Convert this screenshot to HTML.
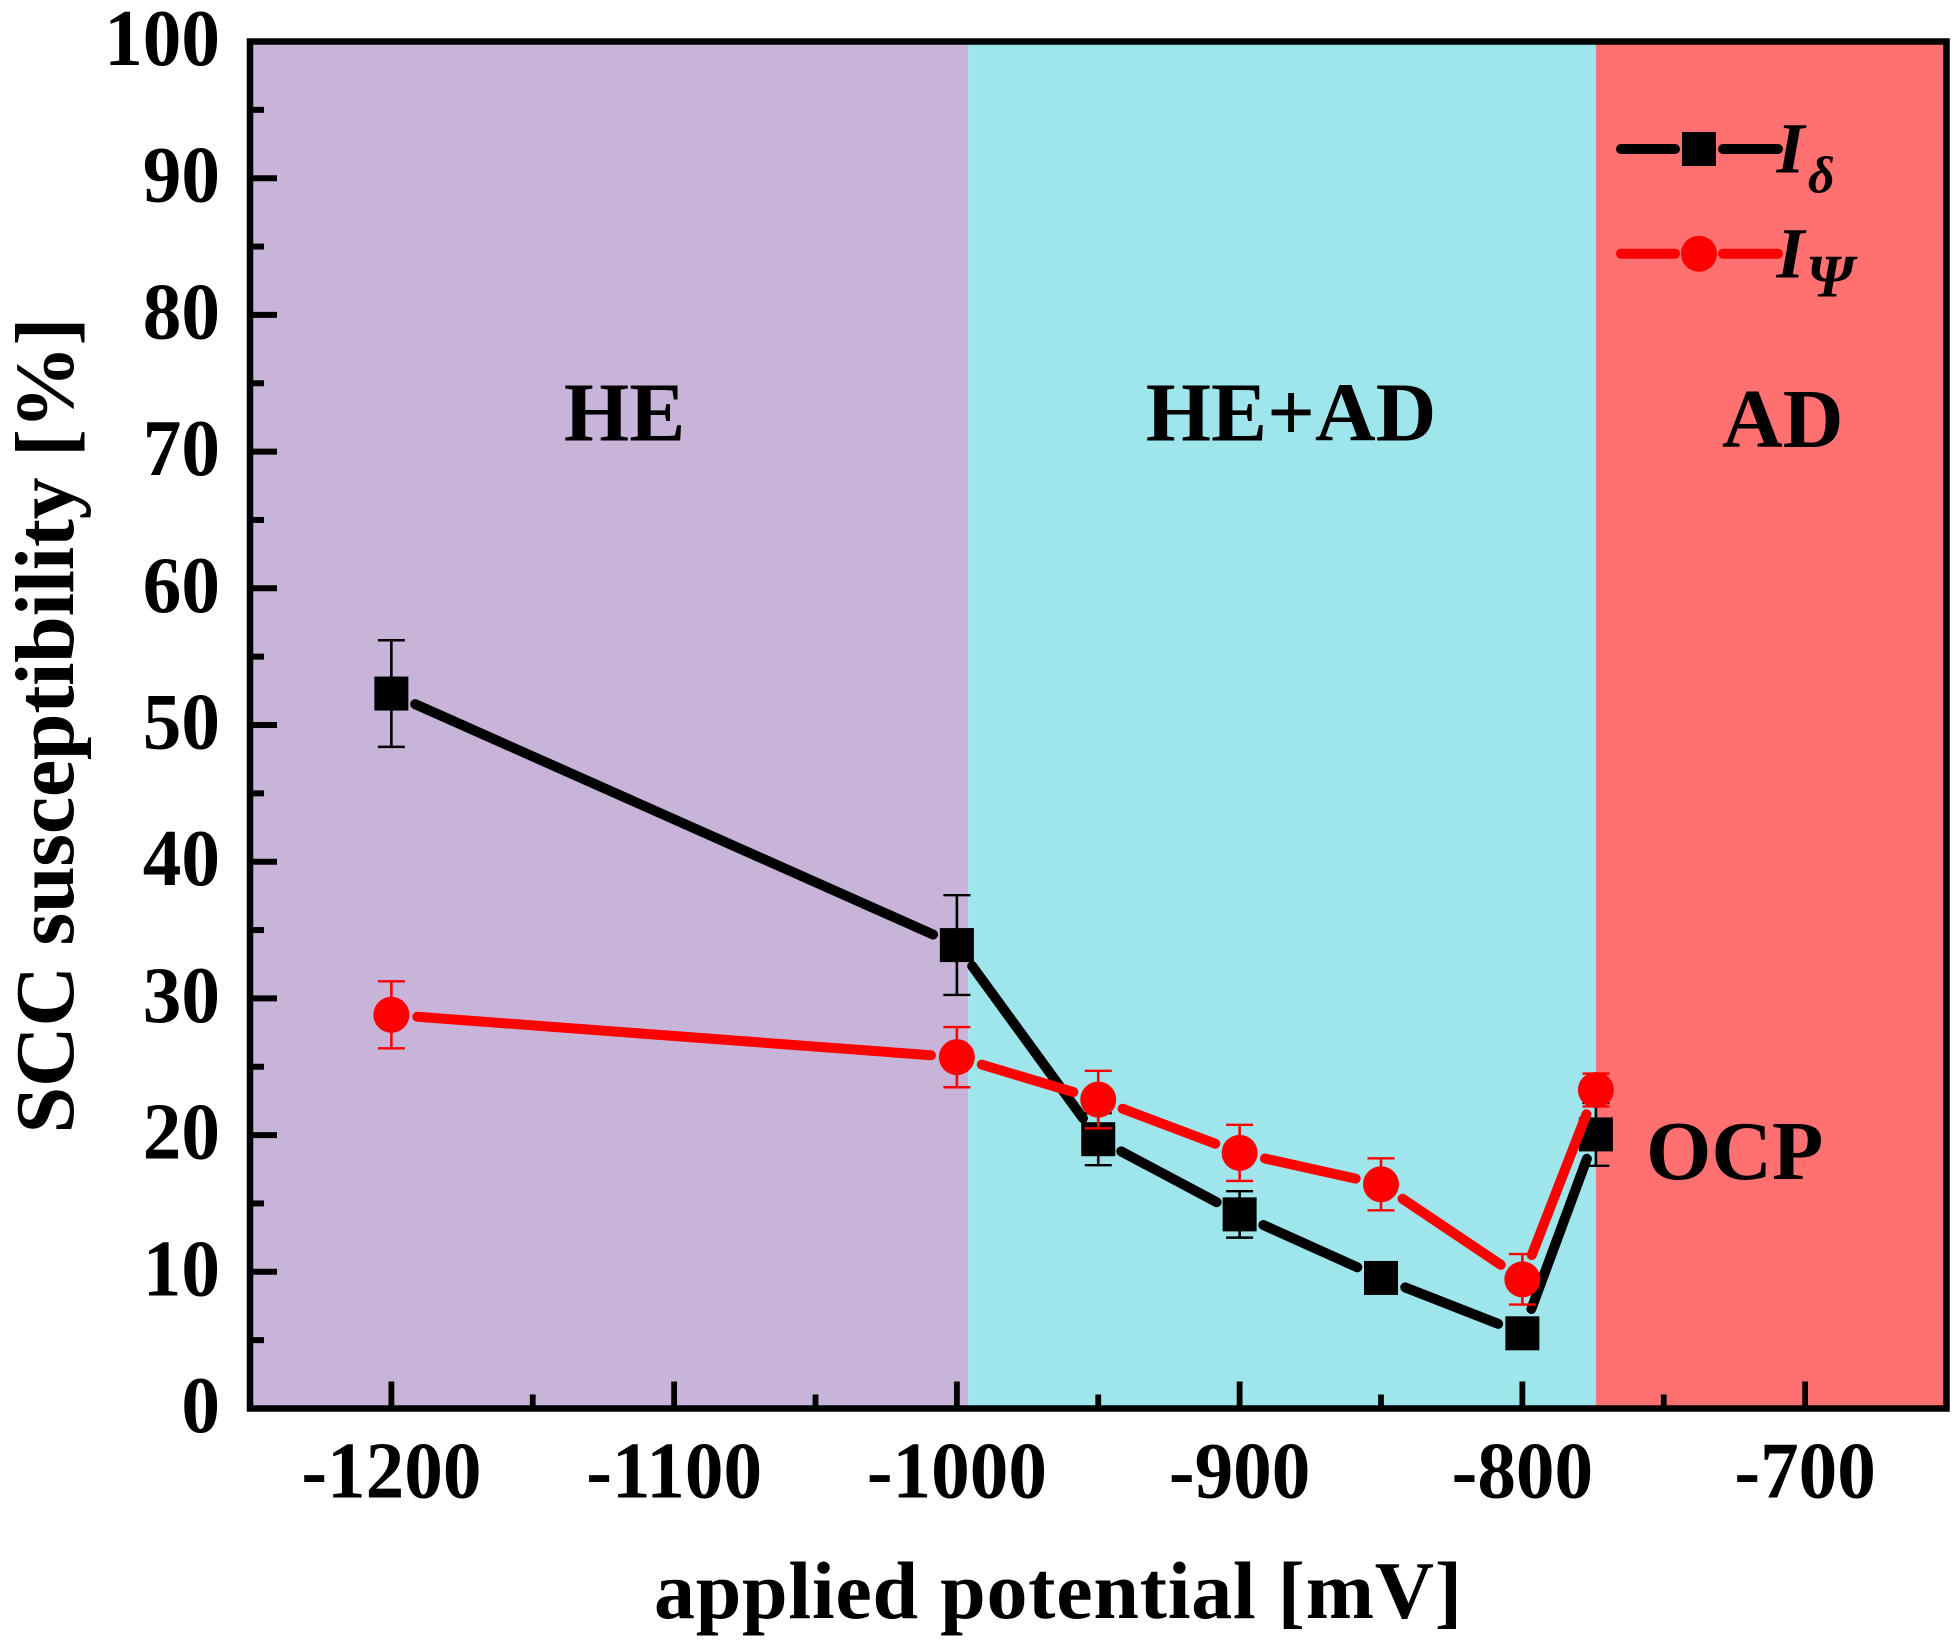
<!DOCTYPE html>
<html lang="en">
<head>
<meta charset="utf-8">
<title>SCC susceptibility vs applied potential</title>
<style>
html,body{margin:0;padding:0;background:#fff;width:1957px;height:1644px;overflow:hidden}
svg{display:block}
text{font-family:"Liberation Serif","Times New Roman",serif;font-weight:bold;fill:#000}
</style>
</head>
<body>
<svg id="chart" xmlns="http://www.w3.org/2000/svg" width="1957" height="1644" viewBox="0 0 1957 1644">
  <g id="bands"></g>
  <g id="series-delta"></g>
  <g id="series-psi"></g>
  <g id="axes"></g>
  <rect x="250" y="41.5" width="1696.5" height="1367" fill="none" stroke="#000" stroke-width="6.5"/>
  <g font-size="84">
    <text x="624.6" y="440.5" text-anchor="middle">HE</text>
    <text x="1291" y="440.5" text-anchor="middle">HE+AD</text>
    <text x="1782.7" y="447" text-anchor="middle">AD</text>
    <text x="1734.7" y="1179" text-anchor="middle">OCP</text>
  </g>
  <g>
    <g>
      <line x1="1621" y1="149" x2="1675" y2="149" stroke="#000" stroke-width="10" stroke-linecap="round"/>
      <line x1="1723" y1="149" x2="1778" y2="149" stroke="#000" stroke-width="10" stroke-linecap="round"/>
      <rect x="1682" y="132" width="34" height="34" fill="#000"/>
      <text x="1776.5" y="172.5" font-size="72" font-style="italic">I</text>
      <text x="1808" y="192.5" font-size="52" font-style="italic">δ</text>
    </g>
    <g>
      <line x1="1621" y1="253.7" x2="1675" y2="253.7" stroke="#f00" stroke-width="10" stroke-linecap="round"/>
      <line x1="1723" y1="253.7" x2="1778" y2="253.7" stroke="#f00" stroke-width="10" stroke-linecap="round"/>
      <circle cx="1699" cy="253.7" r="18" fill="#f00"/>
      <text x="1776.5" y="277.5" font-size="72" font-style="italic">I</text>
      <text x="1806" y="296.5" font-size="60" font-style="italic">Ψ</text>
    </g>
  </g>
  <text x="1058" y="1618" font-size="82" text-anchor="middle" textLength="808" lengthAdjust="spacing">applied potential [mV]</text>
  <text transform="translate(73 725.5) rotate(-90)" font-size="84" text-anchor="middle" textLength="816" lengthAdjust="spacing">SCC susceptibility [%]</text>
</svg>
<script>
const potentials = [-1200, -1000, -950, -900, -850, -800, -774];
const deltaValues = [52.3, 33.9, 19.7, 14.2, 9.55, 5.5, 20.05];
const deltaErrors = [3.9, 3.65, 1.9, 1.7, 1.0, 0.5, 2.3];
const psiValues = [28.8, 25.7, 22.6, 18.7, 16.4, 9.45, 23.3];
const psiErrors = [2.45, 2.2, 2.1, 2.05, 1.9, 1.85, 1.2];
const xMajorTicks = [-1200, -1100, -1000, -900, -800, -700];
const xMinorTicks = [-1150, -1050, -950, -850, -750];
const yMajorTicks = [0, 10, 20, 30, 40, 50, 60, 70, 80, 90, 100];
const yMinorTicks = [5, 15, 25, 35, 45, 55, 65, 75, 85, 95];
const xDomain = [-1250, -650];
const yDomain = [0, 100];
const bandEdges = [-1250, -996, -774, -650];
const bandColors = ['#c8b4d8', '#9fe6ec', '#ff7070'];

const NS = 'http://www.w3.org/2000/svg';
const plotLeft = 250, plotRight = 1946.5, plotTop = 41.5, plotBottom = 1408.5;
function xScale(v) { return plotLeft + (v - xDomain[0]) / (xDomain[1] - xDomain[0]) * (plotRight - plotLeft); }
function yScale(v) { return plotBottom - (v - yDomain[0]) / (yDomain[1] - yDomain[0]) * (plotBottom - plotTop); }
function make(tag, parent, attrs) {
  const el = document.createElementNS(NS, tag);
  for (const k in attrs) el.setAttribute(k, attrs[k]);
  parent.appendChild(el);
  return el;
}

const bandsGroup = document.getElementById('bands');
bandColors.forEach(function (color, i) {
  const band = make('rect', bandsGroup, { x: xScale(bandEdges[i]), y: plotTop, width: xScale(bandEdges[i + 1]) - xScale(bandEdges[i]), height: plotBottom - plotTop, fill: color });
  
  
});

const axesGroup = document.getElementById('axes');
function drawXTick(v, len) {
  const tick = make('line', axesGroup, { x1: xScale(v), x2: xScale(v), y1: plotBottom, y2: plotBottom - len, stroke: '#000', 'stroke-width': 5.8 });
  
  
}
function drawYTick(v, len) {
  const tick = make('line', axesGroup, { x1: plotLeft, x2: plotLeft + len, y1: yScale(v), y2: yScale(v), stroke: '#000', 'stroke-width': 6 });
  
  
}
const labelSqueeze = 0.965;
xMajorTicks.forEach(function (v) {
  drawXTick(v, 27);
  const label = make('text', axesGroup, { transform: 'translate(' + xScale(v) + ' 1497.7) scale(' + labelSqueeze + ' 1)', 'font-size': 80, 'text-anchor': 'middle' });
  
  
  label.textContent = String(v);
});
xMinorTicks.forEach(function (v) { drawXTick(v, 14); });
yMajorTicks.forEach(function (v) {
  drawYTick(v, 27);
  const label = make('text', axesGroup, { transform: 'translate(220 ' + (yScale(v) + 23.5) + ') scale(' + labelSqueeze + ' 1)', 'font-size': 80, 'text-anchor': 'end' });
  
  
  label.textContent = String(v);
});
yMinorTicks.forEach(function (v) { drawYTick(v, 14); });

const markerGap = 26, lineWidth = 10, capHalf = 13.5;
function drawSeries(group, values, errors, color, shape) {
  potentials.forEach(function (p, i) {
    if (i === 0) return;
    const x1 = xScale(potentials[i - 1]), y1 = yScale(values[i - 1]);
    const x2 = xScale(p), y2 = yScale(values[i]);
    const d = Math.hypot(x2 - x1, y2 - y1);
    const ux = (x2 - x1) / d, uy = (y2 - y1) / d;
    const seg = make('line', group, { x1: x1 + ux * markerGap, y1: y1 + uy * markerGap, x2: x2 - ux * markerGap, y2: y2 - uy * markerGap, stroke: color, 'stroke-width': lineWidth, 'stroke-linecap': 'round' });
    
    
  });
  potentials.forEach(function (p, i) {
    const cx = xScale(p), top = yScale(values[i] + errors[i]), bottom = yScale(values[i] - errors[i]);
    const stem = make('line', group, { x1: cx, x2: cx, y1: top, y2: bottom, stroke: color, 'stroke-width': 2.6 });
    
    
    const capTop = make('line', group, { x1: cx - capHalf, x2: cx + capHalf, y1: top, y2: top, stroke: color, 'stroke-width': 2.4 });
    
    
    const capBottom = make('line', group, { x1: cx - capHalf, x2: cx + capHalf, y1: bottom, y2: bottom, stroke: color, 'stroke-width': 2.4 });
    
    
  });
  potentials.forEach(function (p, i) {
    const cx = xScale(p), cy = yScale(values[i]);
    if (shape === 'square') {
      const square = make('rect', group, { x: cx - 17, y: cy - 17, width: 34, height: 34, fill: color });
      
      
    } else {
      const circle = make('circle', group, { cx: cx, cy: cy, r: 18, fill: color });
      
      
    }
  });
}
drawSeries(document.getElementById('series-delta'), deltaValues, deltaErrors, '#000', 'square');
drawSeries(document.getElementById('series-psi'), psiValues, psiErrors, '#f00', 'circle');
</script>
</body>
</html>
